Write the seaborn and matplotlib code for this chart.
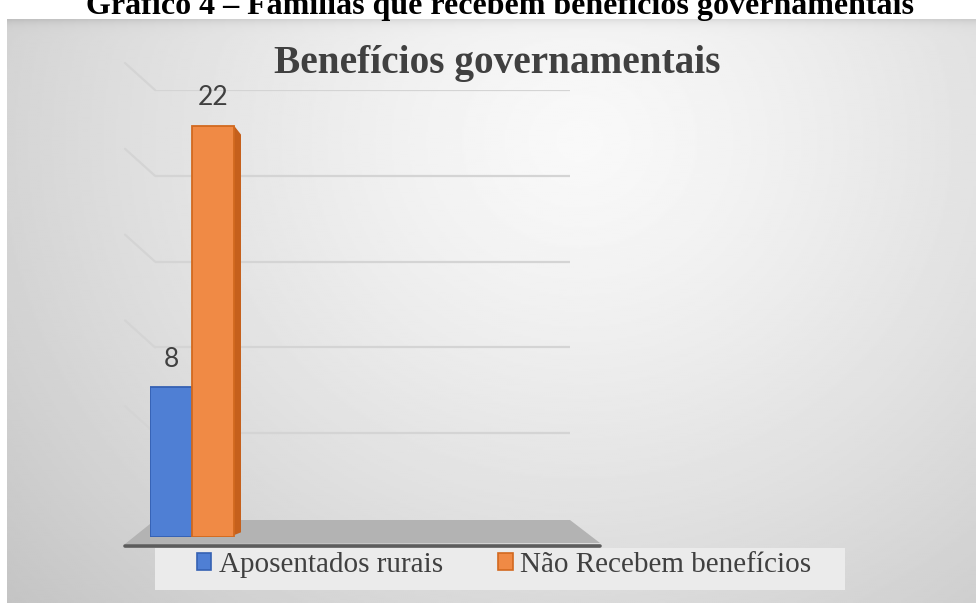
import numpy as np
import pandas as pd
import matplotlib
matplotlib.use("Agg")
import matplotlib.pyplot as plt
import seaborn as sns
from matplotlib.patches import Polygon, Patch, Rectangle
from matplotlib.lines import Line2D

# ---- data ----
categories = ["Aposentados rurais", "Não Recebem benefícios"]
values = [8, 22]
colors = ["#4f7fd4", "#f08a45"]
edge_colors = ["#3561b3", "#d2691f"]
grid_values = [5, 10, 15, 20, 25]
chart_title = "Benefícios governamentais"
caption = "Gráfico 4 – Famílias que recebem benefícios governamentais"

sns.set_theme(style="white")
plt.rcParams['font.family'] = ['Liberation Serif', 'DejaVu Serif']

W, H = 976, 603
fig = plt.figure(figsize=(W / 100, H / 100), dpi=100)
fig.patch.set_facecolor("white")


def fx(px):
    return px / W


def fy(py):
    return 1 - py / H


# ---- background gradient ----
top_px = 19
ax_bg = fig.add_axes([fx(7), 0, 1 - fx(7), fy(top_px)])
ax_bg.set_zorder(-5)
ny, nx = 296, 485
yy, xx = np.mgrid[0:ny, 0:nx]
px_x = 7 + xx / (nx - 1) * (W - 7)
px_y = top_px + yy / (ny - 1) * (H - top_px)
r = np.sqrt((px_x - 580) ** 2 + ((px_y - 140) * 1.1) ** 2)
light = 0.975 - 0.19 * (r / 720) ** 1.3
light -= 0.08 * np.exp(-(px_y - top_px) / 4)
ax_bg.imshow(np.clip(light, 0, 1), cmap="gray", vmin=0, vmax=1,
             aspect="auto", extent=[0, 1, 0, 1], origin="upper",
             interpolation="bilinear")
ax_bg.set_axis_off()

# ---- back wall with gridlines ----
ax_wall = fig.add_axes([fx(155), fy(519), fx(570) - fx(155), fy(90) - fy(519)])
ax_wall.set_zorder(-4)
ax_wall.patch.set_alpha(0)
ax_wall.set_xlim(0, 1)
ax_wall.set_ylim(0, 25)
ax_wall.set_axis_off()
for g in grid_values:
    ax_wall.axhline(g, color="#d4d4d4", lw=1.6, zorder=1)
    _, ypix = ax_wall.transData.transform((0, g))
    yp = H - ypix
    fig.add_artist(Line2D([fx(125), fx(155)], [fy(yp - 27), fy(yp)],
                          color="#d4d4d4", lw=1.6, zorder=-3))

# ---- floor ----
floor = Polygon([(fx(155), fy(520)), (fx(570), fy(520)), (fx(600), fy(543)),
                 (fx(125), fy(544))], closed=True, transform=fig.transFigure,
                facecolor="#b3b3b3", edgecolor="none", zorder=-2)
fig.add_artist(floor)
fig.add_artist(Line2D([fx(125), fx(600)], [fy(546), fy(546)],
                      color="#5c5c5c", lw=2.6, solid_capstyle="round",
                      zorder=-2))

# ---- bars ----
ax = fig.add_axes([fx(150), fy(537), fx(570) - fx(150), fy(90) - fy(537)])
ax.set_zorder(5)
ax.patch.set_alpha(0)
df = pd.DataFrame({"cat": categories, "val": values})
sns.barplot(data=df, x="cat", y="val", hue="cat", palette=colors,
            width=1.0, saturation=1, legend=False, ax=ax, zorder=3)
ax.set_xlim(-0.5, 9.5)
ax.set_ylim(0, (537 - 90) / 18.7)
ax.set_axis_off()

for i, cont in enumerate(ax.containers):
    for p in cont.patches:
        p.set_edgecolor(edge_colors[i])
        p.set_linewidth(1.3)
        x1 = p.get_x() + p.get_width()
        h = p.get_height()
        d = 7 / 42
        dh = 9 / 18.7
        side = Polygon([(x1, 0.1), (x1, h), (x1 + d, h - dh), (x1 + d, 0.25)],
                       closed=True, facecolor="#c5601c", edgecolor="none",
                       zorder=2.9)
        if i == len(ax.containers) - 1:
            ax.add_patch(side)
    ax.bar_label(cont, padding=11, fontsize=19, color="#404040",
                 family=["Lato", "DejaVu Sans"])

# ---- titles ----
fig.text(fx(497), fy(73), chart_title, ha="center", va="baseline",
         fontsize=28.3, fontweight="bold", color="#404040")
fig.text(fx(500), fy(14), caption, ha="center", va="baseline",
         fontsize=23, fontweight="bold", color="black", zorder=10)

# ---- legend ----
fig.add_artist(Rectangle((fx(155), fy(590)), fx(845) - fx(155),
                         fy(548) - fy(590), transform=fig.transFigure,
                         facecolor="#ebebeb", edgecolor="none", zorder=-1))
handles = [Patch(facecolor=c, edgecolor=e, lw=1.2)
           for c, e in zip(colors, edge_colors)]
leg = fig.legend(handles, categories, loc="center",
                 bbox_to_anchor=(fx(504), fy(565)), ncol=2, frameon=False,
                 fontsize=21, handlelength=0.5, handleheight=0.5,
                 handletextpad=0.25, columnspacing=1.9, borderpad=0.2)
for t in leg.get_texts():
    t.set_color("#404040")

fig.savefig("out.png", dpi=100)
